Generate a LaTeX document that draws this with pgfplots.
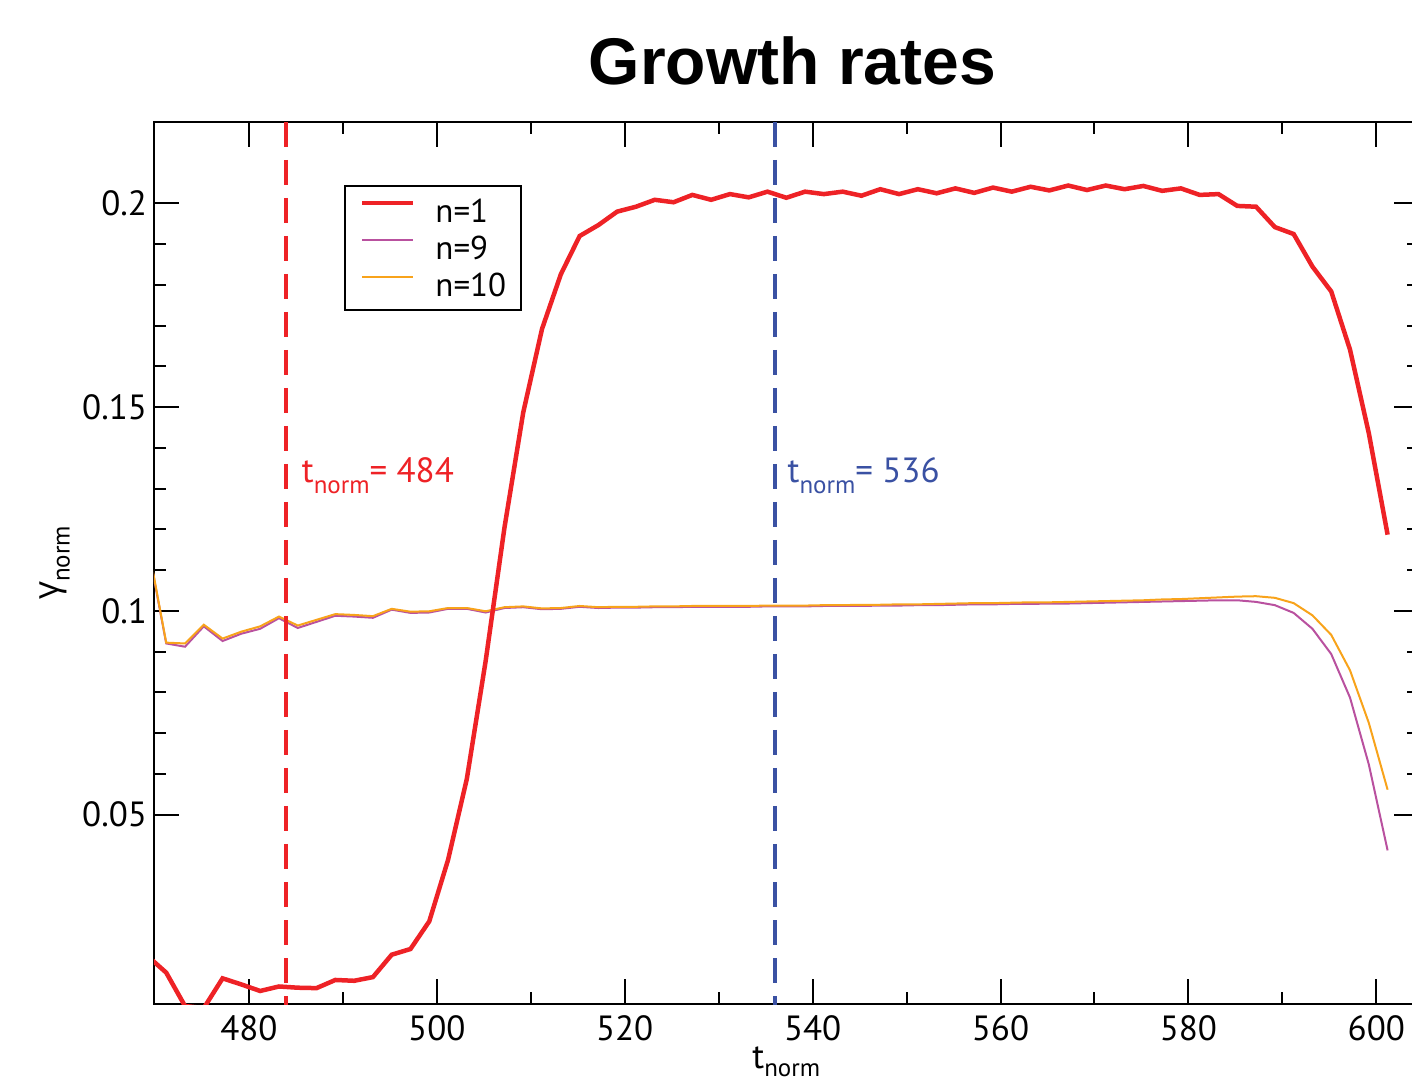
\documentclass[border=0pt]{standalone}
\usepackage{fontspec}
\setmainfont{PT Sans}
\newfontfamily\titlefont{Liberation Sans}
\newfontfamily\greekfont{Open Sans}
\usepackage{pgfplots}
\pgfplotsset{compat=1.18}
\definecolor{cred}{HTML}{EE2226}
\definecolor{cpurple}{HTML}{B9519F}
\definecolor{corange}{HTML}{F8A31B}
\definecolor{cblue}{HTML}{3A51A3}
\newcommand\sub[1]{\raisebox{-5.5pt}{\fontsize{12.5}{14}\selectfont #1}}
\newcommand\subx[1]{\raisebox{-4pt}{\fontsize{12.5}{14}\selectfont #1}}
\begin{document}
\begin{tikzpicture}
\begin{axis}[
  at={(0pt,0pt)}, anchor=south west,
  scale only axis, width=632.3pt, height=441pt,
  xmin=469.9, xmax=604.5, ymin=0.0035, ymax=0.22,
  xtick={480,500,520,540,560,580,600},
  ytick={0.05,0.1,0.15,0.2},
  minor x tick num=1, minor y tick num=4,
  tick align=inside,
  major tick length=12.5pt, minor tick length=6pt,
  tick style={black, line width=1pt},
  axis line style={line width=1.3pt},
  /pgf/number format/assume math mode=true,
  yticklabel style={/pgf/number format/fixed, /pgf/number format/precision=2},
  tick label style={font=\fontsize{17.5}{20}\selectfont},
  xticklabel style={yshift=-2.5pt},
  title={\titlefont\bfseries Growth rates},
  title style={at={(rel axis cs:0.5,1.056)}, xshift=3pt, anchor=center, font=\fontsize{33}{38}\selectfont},
  xlabel={t\subx{norm}},
  xlabel style={at={(rel axis cs:0.5,-0.048)}, anchor=north, inner sep=0pt, font=\fontsize{17.5}{20}\selectfont},
  ylabel={{\greekfont γ}\sub{norm}},
  ylabel style={at={(rel axis cs:-0.0783,0.5)}, anchor=center, font=\fontsize{17.5}{20}\selectfont},
  legend style={at={(rel axis cs:0.1502,0.9286)}, anchor=north west, draw=black, line width=1pt,
    font=\fontsize{16.5}{18}\selectfont, inner xsep=7.5pt, inner ysep=3.25pt,
    column sep=10pt, row sep=0pt,
    nodes={inner xsep=0pt, inner ysep=3.25pt, text height=12pt, text depth=0pt}},
  legend cell align=left,
  legend image code/.code={\draw[#1] (0pt,4pt) -- (25.5pt,4pt);},
]
% n=9
\addplot[cpurple, line width=1pt, forget plot] coordinates {
(469.2,0.1165) (471.2,0.0920) (473.2,0.0912) (475.2,0.0962) (477.2,0.0926) (479.2,0.0944)
(481.2,0.0956) (483.2,0.0982) (485.2,0.0958) (487.2,0.0973) (489.2,0.0988) (491.2,0.0986)
(493.2,0.0983) (495.2,0.1003) (497.2,0.0995) (499.2,0.0996) (501.2,0.1005) (503.2,0.1005)
(505.2,0.0996) (507.2,0.1007) (509.2,0.1009) (511.2,0.1004) (513.2,0.1005) (515.2,0.1010)
(517.2,0.1007) (519.2,0.1008) (521.2,0.1008) (523.2,0.1009) (525.2,0.1009) (527.2,0.1010)
(529.2,0.1010) (531.2,0.1010) (533.2,0.1010) (535.2,0.1011) (537.2,0.1011) (539.2,0.1011)
(541.2,0.1012) (543.2,0.1012) (545.2,0.1012) (547.2,0.1013) (549.2,0.1013) (551.2,0.1014)
(553.2,0.1014) (555.2,0.1015) (557.2,0.1016) (559.2,0.1016) (561.2,0.1017) (563.2,0.1017)
(565.2,0.1018) (567.2,0.1018) (569.2,0.1019) (571.2,0.1020) (573.2,0.1021) (575.2,0.1022)
(577.2,0.1023) (579.2,0.1024) (581.2,0.1025) (583.2,0.1026) (585.2,0.1026) (587.2,0.1022)
(589.2,0.1014) (591.2,0.0995) (593.2,0.0956) (595.2,0.0894) (597.2,0.0787) (599.2,0.0623)
(601.2,0.0412)};
% n=10
\addplot[corange, line width=1pt, forget plot] coordinates {
(469.2,0.1170) (471.2,0.0922) (473.2,0.0920) (475.2,0.0966) (477.2,0.0932) (479.2,0.0949)
(481.2,0.0962) (483.2,0.0986) (485.2,0.0964) (487.2,0.0978) (489.2,0.0992) (491.2,0.0990)
(493.2,0.0987) (495.2,0.1005) (497.2,0.0998) (499.2,0.0999) (501.2,0.1007) (503.2,0.1007)
(505.2,0.0999) (507.2,0.1009) (509.2,0.1011) (511.2,0.1006) (513.2,0.1007) (515.2,0.1012)
(517.2,0.1009) (519.2,0.1010) (521.2,0.1010) (523.2,0.1011) (525.2,0.1011) (527.2,0.1012)
(529.2,0.1012) (531.2,0.1012) (533.2,0.1012) (535.2,0.1013) (537.2,0.1013) (539.2,0.1013)
(541.2,0.1014) (543.2,0.1014) (545.2,0.1015) (547.2,0.1015) (549.2,0.1016) (551.2,0.1016)
(553.2,0.1017) (555.2,0.1018) (557.2,0.1019) (559.2,0.1019) (561.2,0.1020) (563.2,0.1021)
(565.2,0.1021) (567.2,0.1022) (569.2,0.1023) (571.2,0.1024) (573.2,0.1025) (575.2,0.1026)
(577.2,0.1028) (579.2,0.1029) (581.2,0.1031) (583.2,0.1033) (585.2,0.1035) (587.2,0.1036)
(589.2,0.1032) (591.2,0.1019) (593.2,0.0989) (595.2,0.0941) (597.2,0.0854) (599.2,0.0725)
(601.2,0.0561)};
% n=1
\addplot[cred, line width=2.25pt, forget plot] coordinates {
(469.2,0.0153) (471.2,0.0112) (473.2,0.0030) (475.2,0.0025) (477.2,0.0098) (479.2,0.0083)
(481.2,0.0067) (483.2,0.0078) (485.2,0.0075) (487.2,0.0074) (489.2,0.0094) (491.2,0.0092)
(493.2,0.0101) (495.2,0.0156) (497.2,0.0170) (499.2,0.0238) (501.2,0.0389) (503.2,0.0588)
(505.2,0.0877) (507.2,0.1204) (509.2,0.1487) (511.2,0.1692) (513.2,0.1826) (515.2,0.1920)
(517.2,0.1947) (519.2,0.1980) (521.2,0.1992) (523.2,0.2009) (525.2,0.2003) (527.2,0.2021)
(529.2,0.2009) (531.2,0.2023) (533.2,0.2015) (535.2,0.2029) (537.2,0.2014) (539.2,0.2029)
(541.2,0.2023) (543.2,0.2029) (545.2,0.2019) (547.2,0.2035) (549.2,0.2023) (551.2,0.2035)
(553.2,0.2025) (555.2,0.2037) (557.2,0.2026) (559.2,0.2039) (561.2,0.2029) (563.2,0.2041)
(565.2,0.2032) (567.2,0.2044) (569.2,0.2033) (571.2,0.2044) (573.2,0.2035) (575.2,0.2043)
(577.2,0.2031) (579.2,0.2037) (581.2,0.2021) (583.2,0.2023) (585.2,0.1994) (587.2,0.1992)
(589.2,0.1942) (591.2,0.1925) (593.2,0.1845) (595.2,0.1784) (597.2,0.1641) (599.2,0.1436)
(601.2,0.1187)};
% markers
\addplot[cred, line width=2pt, dash pattern=on 12.5pt off 6.5pt, forget plot] coordinates {(484,0.22) (484,0.0)};
\addplot[cblue, line width=2pt, dash pattern=on 12.5pt off 6.5pt, forget plot] coordinates {(536,0.22) (536,0.0)};
\addlegendimage{cred, line width=2.25pt}
\addlegendentry{n=1}
\addlegendimage{cpurple, line width=1pt}
\addlegendentry{n=9}
\addlegendimage{corange, line width=1pt}
\addlegendentry{n=10}
\node[anchor=base west, inner sep=0pt, text=cred, font=\fontsize{17.5}{20}\selectfont] at (axis cs:485.6,0.1314) {t\sub{norm}= 484};
\node[anchor=base west, inner sep=0pt, text=cblue, font=\fontsize{17.5}{20}\selectfont] at (axis cs:537.3,0.1314) {t\sub{norm}= 536};
\end{axis}
\pgfresetboundingbox
\useasboundingbox (-77pt,-39pt) rectangle (629pt,502pt);
\end{tikzpicture}
\end{document}
